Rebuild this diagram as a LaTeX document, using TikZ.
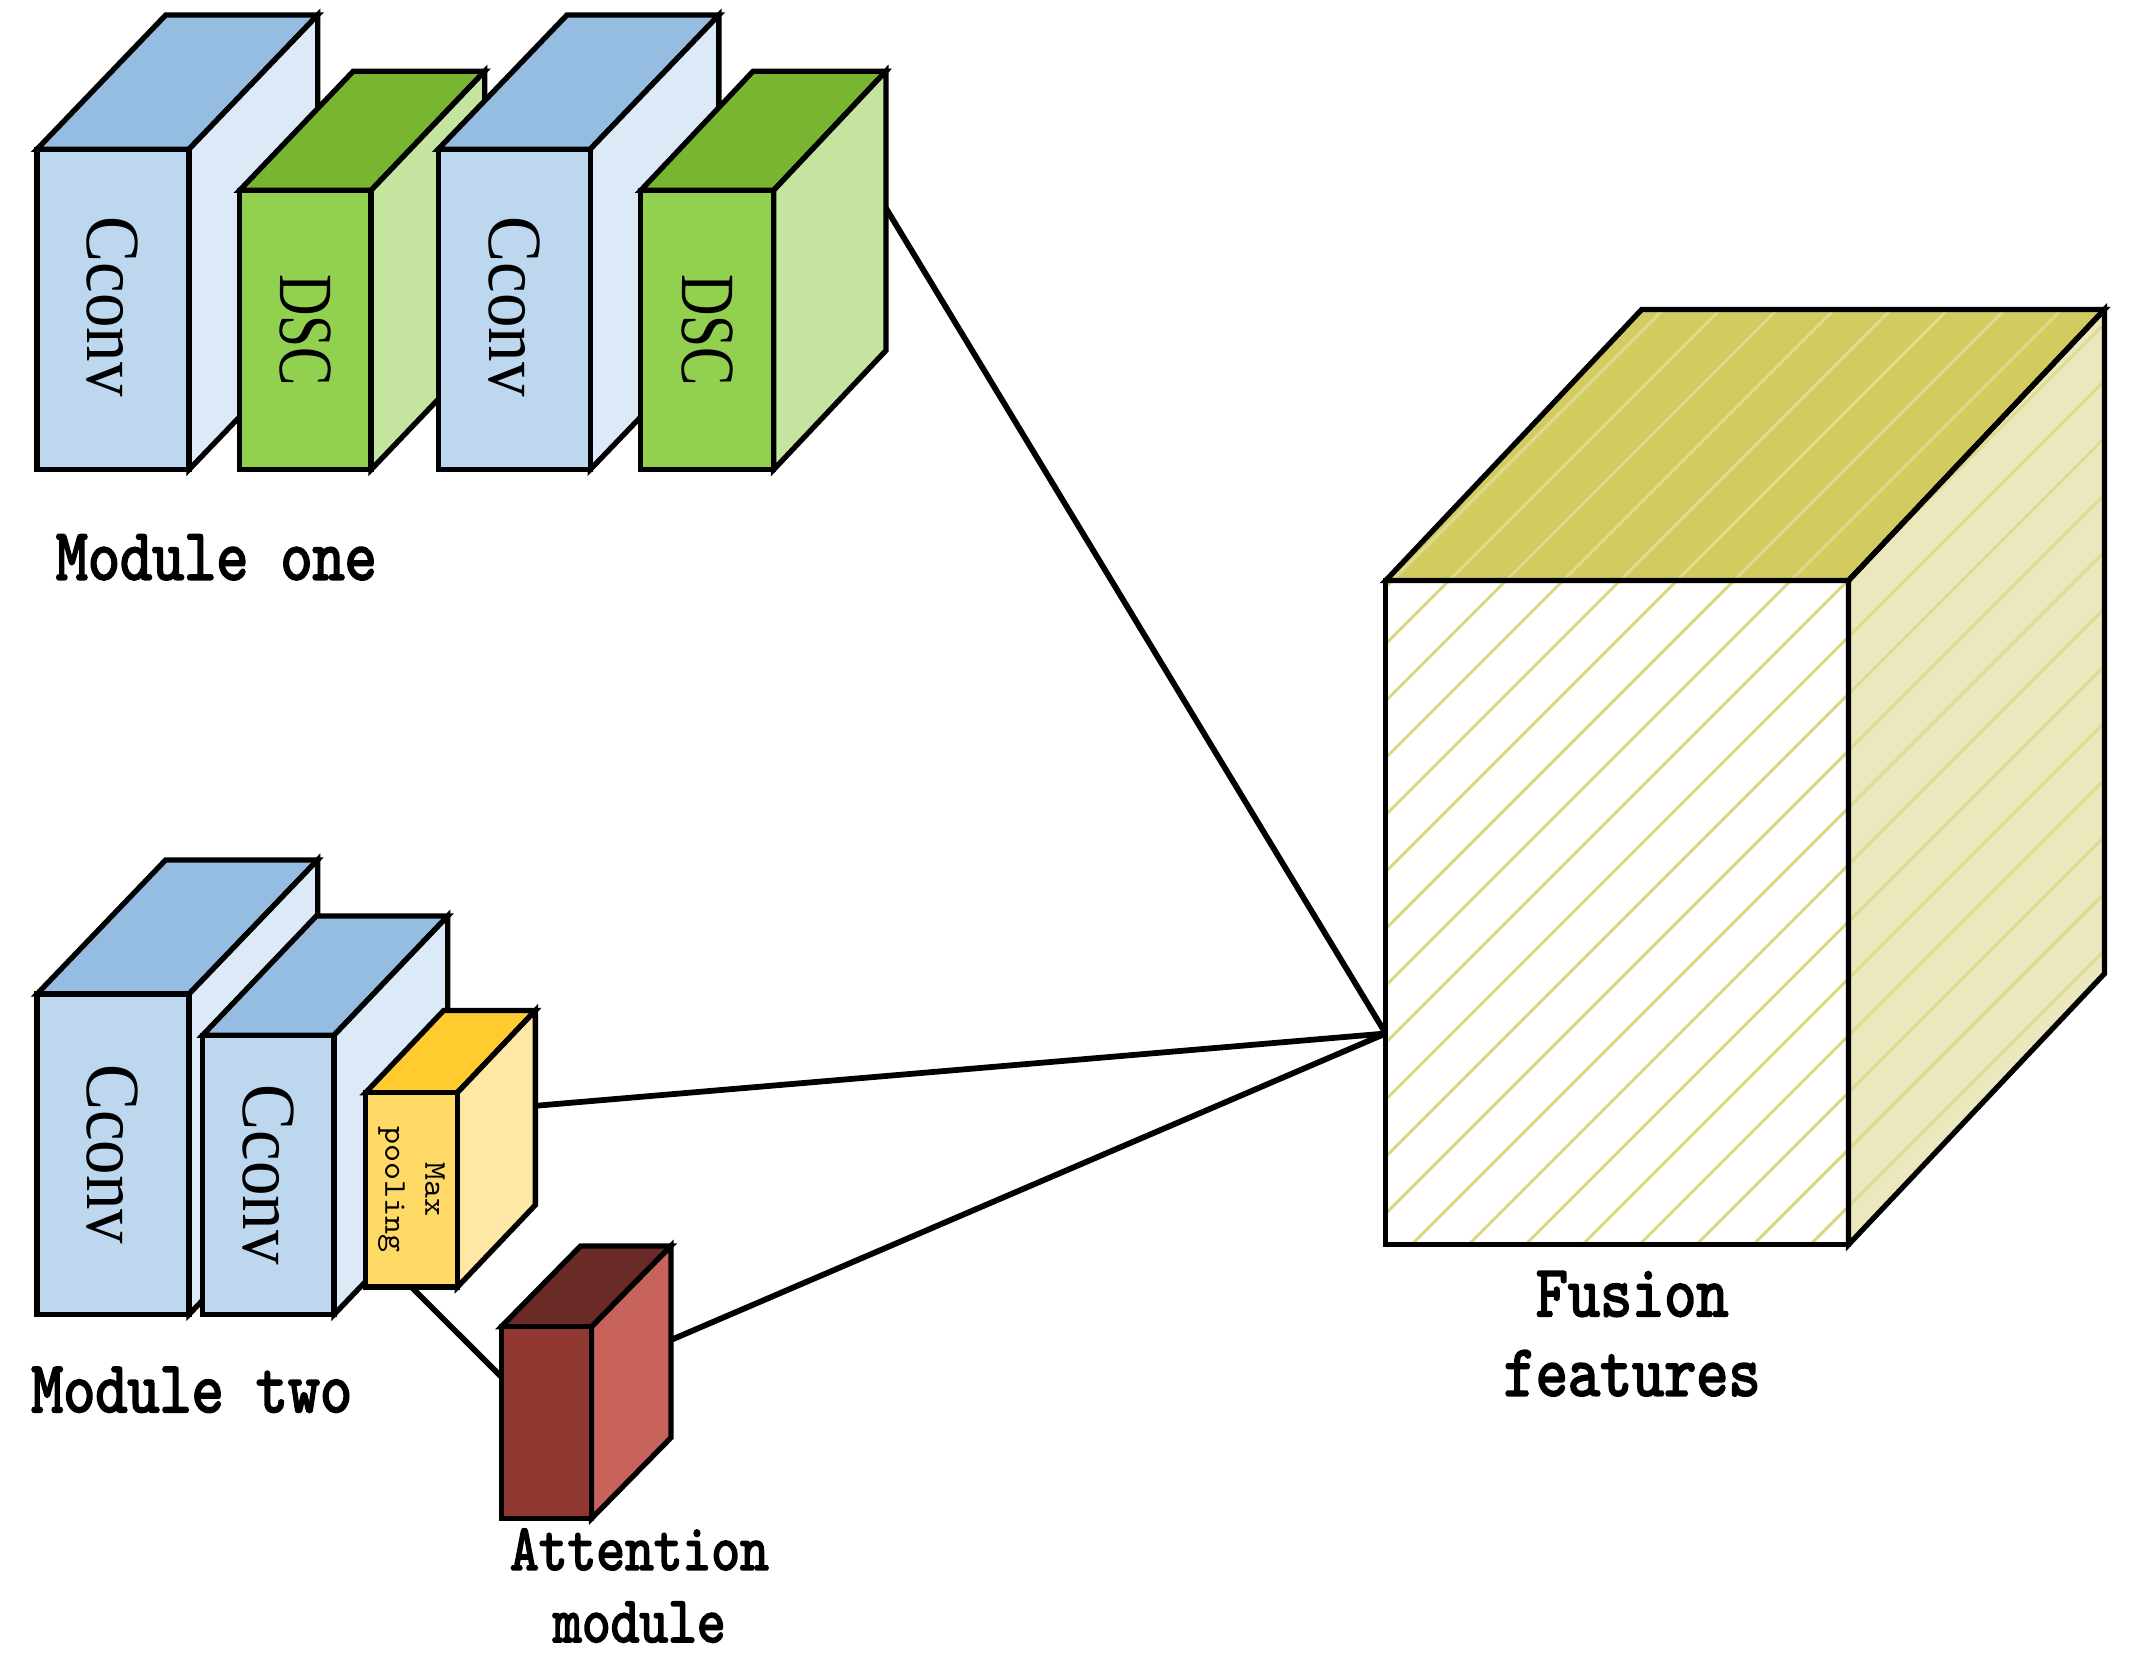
\documentclass[tikz,border=0pt]{standalone}
\usepackage{fontspec}
\usepackage{graphicx}
\usetikzlibrary{calc}
\newfontfamily\lblfont[Extension=.otf,FakeBold=2.5,FakeStretch=0.83]{lmmono10-regular}
\newfontfamily\smfont[Extension=.otf,FakeStretch=1.08]{lmmono10-regular}
\newfontfamily\infont{Liberation Serif}

\definecolor{blueF}{HTML}{BDD7EE}
\definecolor{blueT}{HTML}{95BDE2}
\definecolor{blueS}{HTML}{DCE9F6}
\definecolor{greenF}{HTML}{92D050}
\definecolor{greenT}{HTML}{78B631}
\definecolor{greenS}{HTML}{C4E4A0}
\definecolor{yelF}{HTML}{FFD966}
\definecolor{yelT}{HTML}{FFCB2F}
\definecolor{yelS}{HTML}{FFE8A6}
\definecolor{redF}{HTML}{903731}
\definecolor{redT}{HTML}{6A2A27}
\definecolor{redS}{HTML}{C7635B}
\definecolor{fusT}{HTML}{D2CC60}
\definecolor{fusS}{HTML}{EAE8BC}
\definecolor{fusF}{HTML}{FFFFFF}
\definecolor{hatchF}{HTML}{DCD77F}
\definecolor{hatchT}{HTML}{DFDA8C}
\definecolor{hatchS}{HTML}{DFDB90}

% name, left x, top y, right x, bottom y, depth dx, depth dy
\newcommand\cubecoords[7]{%
  \coordinate (#1-ftl) at (#2,#3);
  \coordinate (#1-ftr) at (#4,#3);
  \coordinate (#1-fbr) at (#4,#5);
  \coordinate (#1-fbl) at (#2,#5);
  \coordinate (#1-btl) at ($(#1-ftl)+(#6,#7)$);
  \coordinate (#1-btr) at ($(#1-ftr)+(#6,#7)$);
  \coordinate (#1-bbr) at ($(#1-fbr)+(#6,#7)$);
  \coordinate (#1-c) at ($(#1-ftl)!0.5!(#1-fbr)$);
}
\newcommand\cuboid[8]{%
  \cubecoords{#1}{#2}{#3}{#4}{#5}{#6}{#7}
  \filldraw[boxedge, fill=#8T] (#1-ftl) -- (#1-btl) -- (#1-btr) -- (#1-ftr) -- cycle;
  \filldraw[boxedge, fill=#8S] (#1-ftr) -- (#1-btr) -- (#1-bbr) -- (#1-fbr) -- cycle;
  \filldraw[boxedge, fill=#8F] (#1-ftl) rectangle (#1-fbr);
}

\begin{document}
\begin{tikzpicture}[x=0.01cm, y=-0.01cm,
  boxedge/.style={draw=black, line width=1.1pt},
  conn/.style={draw=black, line width=1.2pt},
  hatch/.style={line width=0.6pt},
  lbl/.style={font=\fontsize{15.3}{16.5}\selectfont\lblfont, align=center, inner sep=0pt},
  lblsm/.style={font=\fontsize{13.7}{15}\selectfont\lblfont, align=center, inner sep=0pt},
  intxt/.style={font=\infont\fontsize{15.9}{18}\selectfont, rotate=-90, inner sep=0pt},
  smtxt/.style={font=\fontsize{6.6}{8.3}\selectfont\smfont, rotate=-90, align=center, inner sep=0pt}]
\useasboundingbox (0,0) rectangle (1568,1211);
\fill[white] (0,0) rectangle (1568,1211);

% ---------- Module one ----------
\cuboid{A}{27}{109}{138}{343}{94}{-98}{blue}
\cuboid{B}{175}{139}{271}{343}{83}{-87}{green}
\cuboid{C}{320}{109}{431}{343}{94}{-98}{blue}
\cuboid{D}{468}{139}{565}{343}{82}{-87}{green}
\node[intxt] (tA) at ($(A-c)+(0,-2)$) {\scalebox{0.9}[1]{Cconv}};
\node[intxt] (tB) at (B-c) {\scalebox{0.75}[1]{DSC}};
\node[intxt] (tC) at ($(C-c)+(0,-2)$) {\scalebox{0.9}[1]{Cconv}};
\node[intxt] (tD) at (D-c) {\scalebox{0.75}[1]{DSC}};
\node[lbl] (lab1) at (158,407) {Module one};

% ---------- Module two ----------
\cuboid{E}{27}{726}{138}{960}{94}{-98}{blue}
\cuboid{F}{148}{756}{244}{960}{83}{-87}{blue}
\cuboid{G}{267}{798}{334}{940}{57}{-60}{yel}
\cuboid{H}{366}{969}{432}{1109}{58}{-59}{red}
\node[intxt] (tE) at (E-c) {\scalebox{0.9}[1]{Cconv}};
\node[intxt] (tF) at (F-c) {\scalebox{0.9}[1]{Cconv}};
\node[smtxt] (tG) at (G-c) {Max\\pooling};
\node[lbl] (lab2) at (140,1015) {Module two};
\node[lblsm] (lab3) at (467,1158) {Attention\\module};

% ---------- Fusion cube ----------
\cubecoords{U}{1012}{424}{1350}{909}{187}{-198}
\fill[fusT] (U-ftl) -- (U-btl) -- (U-btr) -- (U-ftr) -- cycle;
\fill[fusS] (U-ftr) -- (U-btr) -- (U-bbr) -- (U-fbr) -- cycle;
\fill[fusF] (U-ftl) rectangle (U-fbr);
\begin{scope}
  \clip (U-ftl) -- (U-btl) -- (U-btr) -- (U-ftr) -- cycle;
  \foreach \c in {1399.1,1440.7,...,2320}
    \draw[hatch, hatchT] ({\c-960},960) -- ({\c-180},180);
\end{scope}
\begin{scope}
  \clip (U-ftr) -- (U-btr) -- (U-bbr) -- (U-fbr) -- cycle;
  \foreach \c in {1399.1,1440.7,...,2320}
    \draw[hatch, hatchS] ({\c-960},960) -- ({\c-180},180);
\end{scope}
\begin{scope}
  \clip (U-ftl) rectangle (U-fbr);
  \foreach \c in {1399.1,1440.7,...,2320}
    \draw[hatch, hatchF] ({\c-960},960) -- ({\c-180},180);
\end{scope}
\draw[boxedge] (U-ftl) -- (U-btl) -- (U-btr) -- (U-ftr) -- cycle;
\draw[boxedge] (U-ftr) -- (U-btr) -- (U-bbr) -- (U-fbr) -- cycle;
\draw[boxedge] (U-ftl) rectangle (U-fbr);
\node[lbl] (lab4) at (1192,974) {Fusion\\features};

% ---------- connectors ----------
\coordinate (m1out) at ($(D-btr)!0.49!(D-bbr)$);
\coordinate (gout) at ($(G-btr)!0.49!(G-bbr)$);
\coordinate (hout) at ($(H-btr)!0.49!(H-bbr)$);
\coordinate (gbot) at ($(G-fbl)!0.5!(G-fbr)$);
\coordinate (hin) at ($(H-ftl)!0.26!(H-fbl)$);
\coordinate (fin) at ($(U-ftl)!0.682!(U-fbl)$);
\draw[conn] (m1out) -- (fin);
\draw[conn] (gout) -- (fin);
\draw[conn] (hout) -- (fin);
\draw[conn] (gbot) -- (hin);
\end{tikzpicture}
\end{document}
